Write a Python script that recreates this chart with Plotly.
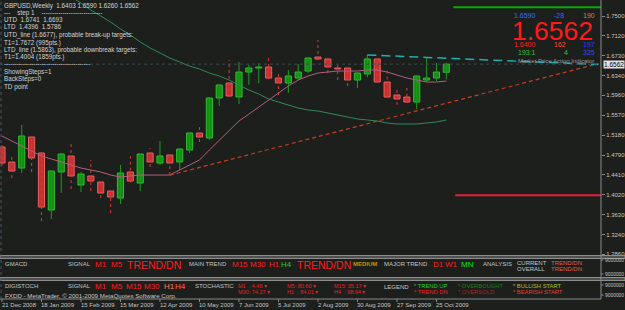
import plotly.graph_objects as go

FONT = "Liberation Sans"
BG = "#1d1f1d"
GRAY = "#c4c4c4"
AXIS = "#8a8a8a"

# ---------------- data ----------------
dates = ["21 Dec 2008", "18 Jan 2009", "15 Feb 2009", "15 Mar 2009", "12 Apr 2009",
         "10 May 2009", "7 Jun 2009", "5 Jul 2009", "2 Aug 2009", "30 Aug 2009",
         "27 Sep 2009", "25 Oct 2009"]
date_pos = [0, 4, 8, 12, 16, 20, 24, 28, 32, 36, 40, 44]

opens = [1.4946, 1.4654, 1.4537, 1.5141, 1.4829, 1.3718, 1.4459, 1.4771, 1.4205, 1.4381,
         1.4264, 1.4088, 1.3952, 1.4459, 1.4244, 1.4829, 1.4634, 1.4790, 1.4654, 1.4888,
         1.5219, 1.5122, 1.5901, 1.6194, 1.5921, 1.6408, 1.6486, 1.6506, 1.6291, 1.6194,
         1.6291, 1.6428, 1.6701, 1.6662, 1.6486, 1.6486, 1.6252, 1.6369, 1.6662, 1.6213,
         1.5960, 1.5921, 1.5823, 1.6252, 1.6291, 1.6403]
highs = [1.4985, 1.4751, 1.5375, 1.5150, 1.4888, 1.4490, 1.4829, 1.5005, 1.4459, 1.4693,
         1.4275, 1.4100, 1.4595, 1.4771, 1.4820, 1.4927, 1.5063, 1.4800, 1.4920, 1.5230,
         1.5336, 1.5921, 1.6165, 1.6642, 1.6603, 1.6545, 1.6584, 1.6740, 1.6389, 1.6447,
         1.6564, 1.6690, 1.7032, 1.6670, 1.6603, 1.6495, 1.6400, 1.6740, 1.6670, 1.6447,
         1.6116, 1.6096, 1.6350, 1.6681, 1.6584, 1.6590]
lows = [1.4576, 1.4342, 1.4439, 1.4459, 1.3503, 1.3542, 1.4049, 1.4127, 1.4069, 1.4088,
        1.3952, 1.3659, 1.3835, 1.4250, 1.4088, 1.4556, 1.4595, 1.4400, 1.4498, 1.4829,
        1.5044, 1.5083, 1.5745, 1.5921, 1.5784, 1.6155, 1.6194, 1.6272, 1.5960, 1.5999,
        1.6252, 1.6389, 1.6642, 1.6389, 1.6252, 1.6135, 1.6096, 1.6311, 1.6205, 1.5910,
        1.5765, 1.5810, 1.5687, 1.6213, 1.6233, 1.6260]
closes = [1.4634, 1.4478, 1.5161, 1.4732, 1.3776, 1.4478, 1.4810, 1.4381, 1.4420, 1.4283,
          1.4049, 1.3971, 1.4439, 1.4283, 1.4810, 1.4654, 1.4771, 1.4634, 1.4907, 1.5219,
          1.5141, 1.5901, 1.6155, 1.5940, 1.6408, 1.6486, 1.6506, 1.6291, 1.6194, 1.6330,
          1.6408, 1.6681, 1.6662, 1.6506, 1.6467, 1.6252, 1.6389, 1.6662, 1.6213, 1.5921,
          1.5882, 1.5823, 1.6330, 1.6291, 1.6408, 1.6562]

ma_fast = [1.5161, 1.5063, 1.4966, 1.4868, 1.4771, 1.4712, 1.4654, 1.4595, 1.4537, 1.4498,
           1.4459, 1.4400, 1.4361, 1.4381, 1.4400, 1.4400, 1.4400, 1.4400, 1.4498, 1.4595,
           1.4693, 1.4888, 1.5083, 1.5258, 1.5453, 1.5587, 1.5726, 1.5862, 1.5999, 1.6135,
           1.6252, 1.6330, 1.6389, 1.6408, 1.6428, 1.6428, 1.6428, 1.6447, 1.6447, 1.6408,
           1.6350, 1.6291, 1.6252, 1.6213, 1.6213, 1.6233]
ma_slow_start = 6
ma_slow = [1.8010, 1.7870, 1.7754, 1.7617, 1.7500, 1.7383, 1.7247, 1.7130, 1.6993, 1.6876,
           1.6779, 1.6681, 1.6603, 1.6525, 1.6467, 1.6389, 1.6330, 1.6252, 1.6155, 1.6057,
           1.5979, 1.5882, 1.5823, 1.5765, 1.5706, 1.5667, 1.5648, 1.5609, 1.5570, 1.5531,
           1.5492, 1.5473, 1.5453, 1.5414, 1.5395, 1.5395, 1.5395, 1.5414, 1.5434, 1.5473]

utd_idx = [37, 43]
utd_val = [1.6741, 1.6693]
ltd_idx = [17, 42]
ltd_val = [1.4396, 1.5650]
target_up = 1.7672
target_dn = 1.4004
last_close = 1.6562

price_ticks = [1.7500, 1.7120, 1.6730, 1.6340, 1.5960, 1.5570, 1.5180, 1.4790,
               1.4410, 1.4020, 1.3630, 1.3240, 1.2860]

X_RANGE = [-0.2, 60.66]
Y_RANGE = [1.2841, 1.7812]

# ---------------- layout helpers (pixel -> paper) ----------------
PW, PH = 601.0, 299.0
def px(x): return x / PW
def py(y): return 1 - y / PH

fig = go.Figure()

# candles
n = len(opens)
idx = list(range(n))
up = [i for i in idx if closes[i] >= opens[i]]
dn = [i for i in idx if closes[i] < opens[i]]

def wick_xy(ids):
    xs, ys = [], []
    for i in ids:
        xs += [i, i, None]
        ys += [lows[i], highs[i], None]
    return xs, ys

wx, wy = wick_xy(up)
fig.add_trace(go.Scatter(x=wx, y=wy, mode="lines", line=dict(color="#1f9a1f", width=1),
                         hoverinfo="skip"))
wx, wy = wick_xy(dn)
fig.add_trace(go.Scatter(x=wx, y=wy, mode="lines", line=dict(color="#d83a3a", width=1, dash="dot"),
                         hoverinfo="skip"))

fig.add_trace(go.Bar(x=up, base=[opens[i] for i in up],
                     y=[closes[i] - opens[i] for i in up], width=0.62,
                     marker=dict(color="#128f12", line=dict(color="#2fbf2f", width=1))))
fig.add_trace(go.Bar(x=dn, base=[closes[i] for i in dn],
                     y=[opens[i] - closes[i] for i in dn], width=0.62,
                     marker=dict(color="#c83030", line=dict(color="#e86060", width=1))))

# moving averages
fig.add_trace(go.Scatter(x=idx, y=ma_fast, mode="lines",
                         line=dict(color="#b45c80", width=1), hoverinfo="skip"))
fig.add_trace(go.Scatter(x=list(range(ma_slow_start, ma_slow_start + len(ma_slow))), y=ma_slow,
                         mode="lines", line=dict(color="#2f8a55", width=1), hoverinfo="skip"))

# trend lines extended to the right edge
x_end = 60.4
def ext(ix, iv):
    s = (iv[1] - iv[0]) / (ix[1] - ix[0])
    return [ix[0], x_end], [iv[0], iv[0] + s * (x_end - ix[0])]

lx, ly = ext(ltd_idx, ltd_val)
fig.add_trace(go.Scatter(x=lx, y=ly, mode="lines",
                         line=dict(color="#c43c22", width=1.2, dash="4px,3px"), hoverinfo="skip"))
ux, uy = ext(utd_idx, utd_val)
fig.add_trace(go.Scatter(x=ux, y=uy, mode="lines",
                         line=dict(color="#1fb0b0", width=1.5, dash="9px,5px"), hoverinfo="skip"))

# target lines and current price line
fig.add_trace(go.Scatter(x=[45.7, X_RANGE[1]], y=[target_up, target_up], mode="lines",
                         line=dict(color="#08a808", width=2), hoverinfo="skip"))
fig.add_trace(go.Scatter(x=[45.9, X_RANGE[1]], y=[target_dn, target_dn], mode="lines",
                         line=dict(color="#e8203c", width=2), hoverinfo="skip"))
fig.add_trace(go.Scatter(x=X_RANGE, y=[last_close, last_close], mode="lines",
                         line=dict(color="#3a4c50", width=1, dash="dot"), hoverinfo="skip"))

shapes = []
# separators
for y0, y1 in [(255.5, 258.5), (277.5, 280.5)]:
    shapes.append(dict(type="rect", xref="paper", yref="paper", x0=0, x1=625 / PW,
                       y0=py(y1), y1=py(y0), fillcolor="#505050",
                       line=dict(color="#8c8c8c", width=1), layer="above"))
# borders
shapes.append(dict(type="line", xref="paper", yref="paper", x0=1, x1=1, y0=0, y1=1,
                   line=dict(color=AXIS, width=1)))
shapes.append(dict(type="line", xref="paper", yref="paper", x0=0, x1=1, y0=0, y1=0,
                   line=dict(color=AXIS, width=1)))
shapes.append(dict(type="line", xref="paper", yref="paper", x0=px(1), x1=px(1), y0=0, y1=1,
                   line=dict(color="#4a5866", width=1, dash="dot")))
# date ticks
for p in date_pos:
    shapes.append(dict(type="line", xref="x", yref="paper", x0=p, x1=p, y0=py(299), y1=py(302),
                       line=dict(color=AXIS, width=1)))
# sub-panel right ticks
for yy in [260, 274, 285, 295]:
    shapes.append(dict(type="line", xref="paper", yref="paper", x0=1, x1=px(603.5), y0=py(yy), y1=py(yy),
                       line=dict(color=AXIS, width=1)))

ann = []
def T(text, x, y, color=GRAY, size=6, bold=False, bg=None, height=None):
    t = "<b>%s</b>" % text if bold else text
    d = dict(x=px(x), y=py(y), xref="paper", yref="paper", text=t, showarrow=False,
             xanchor="left", yanchor="middle", borderpad=0,
             font=dict(family=FONT, size=size, color=color))
    if bg:
        d["bgcolor"] = bg
    if height:
        d["height"] = height
    ann.append(d)

# top-left info
info = [("GBPUSD,Weekly  1.6403 1.6590 1.6260 1.6562", 6),
        ("---    step 1    -----------------------------", 13),
        ("UTD  1.6741  1.6693", 20),
        ("LTD  1.4396  1.5786", 27),
        ("UTD_line (1.6677), probable break-up targets:", 35),
        ("T1=1.7672 (995pts.)", 43),
        ("LTD_line (1.5863), probable downbreak targets:", 50),
        ("T1=1.4004 (1859pts.)", 57),
        ("-----------------------------------------", 64),
        ("ShowingSteps=1", 72),
        ("BackSteps=0", 79),
        ("TD point", 87)]
for t, y in info:
    T(t, 3, y, "#d4d4d4", 6.3)

# top-right info block
T("1.6590", 513, 16, "#2f6bff", 7)
T("-28", 553, 16, "#2f6bff", 7)
T("190", 582, 16, "#c48a3a", 7)
T("1.6562", 511, 30.5, "#ff1a1a", 26.5, height=22)
T("1.6400", 513, 44.5, "#ff2020", 7)
T("162", 553, 44.5, "#ff4a2a", 7)
T("197", 582, 44.5, "#2a3cff", 7)
T("193:1", 517, 52.5, "#3cc03c", 7)
T("4", 563, 52.5, "#3cc03c", 7)
T("325", 582, 52.5, "#3048ff", 7)
T("Market Price Action Indicator", 517, 61, "#9a9a9a", 6)

# GMACD panel
RED = "#ff1c1c"
T("GMACD", 4, 264)
T("SIGNAL", 67, 264)
T("M1", 94, 264, RED, 8)
T("M5", 110, 264, RED, 8)
T("TREND/DN", 126, 265, RED, 10.5)
T("MAIN TREND", 188, 264)
T("M15", 231, 264, RED, 8)
T("M30", 249, 264, RED, 8)
T("H1", 268, 264, RED, 8)
T("H4", 280, 264, "#22d022", 8)
T("TREND/DN", 296, 265, RED, 10.5)
T("MEDIUM", 352, 264, "#d08a00", 6, True)
T("MAJOR TREND", 383, 264)
T("D1", 432, 264, RED, 8)
T("W1", 444, 264, RED, 8)
T("MN", 460, 264, "#10e010", 8)
T("ANALYSIS", 482, 264)
T("CURRENT", 516, 263)
T("OVERALL", 516, 268.5)
T("TREND/DN", 550, 263, "#e85a48", 6)
T("TREND/DN", 550, 268.5, "#e85a48", 6)

# DIGISTOCH panel
T("DIGISTOCH", 4, 286)
T("FXDD - MetaTrader, © 2001-2009 MetaQuotes Software Corp.", 4, 295, "#c8c8c8", 6.2)
T("SIGNAL", 67, 286)
T("M1", 94, 286, RED, 8)
T("M5", 110, 286, RED, 8)
T("M15", 125, 286, RED, 8)
T("M30", 143, 286, RED, 8)
T("H1", 163, 286, "#ff7a5a", 8)
T("H4", 174, 286, "#ff6a40", 8)
T("STOCHASTIC", 194, 286)
T("M1  : 4.46 ▾", 237, 286, "#e02424", 5.5)
T("M30: 74.27 ▾", 237, 292, "#e02424", 5.5)
T("M5: 80.60 ▾", 286, 286, "#e02424", 5.5)
T("H1  : 84.01 ▾", 286, 292, "#e02424", 5.5)
T("M15: 35.17 ▾", 333, 286, "#e02424", 5.5)
T("H4  : 98.94 ▾", 333, 292, "#e02424", 5.5)
T("LEGEND", 383, 287)
T("* TREND UP", 413, 286, "#22c822", 5.8)
T("* TREND DN", 413, 291.5, "#e02424", 5.8)
T("* OVERBOUGHT", 457, 286, "#1c7c1c", 5.8)
T("* OVERSOLD", 457, 291.5, "#b02020", 5.8)
T("* BULLISH START", 512, 286, "#a6c020", 5.8)
T("* BEARISH START", 512, 291.5, "#e04428", 5.8)

# sub-panel right labels
for yy in [260, 274, 285, 295]:
    T("9000000", 604, yy, GRAY, 4.9)

# date labels
for d, p in zip(dates, date_pos):
    ann.append(dict(x=p, y=py(305), xref="x", yref="paper", text=d, showarrow=False,
                    xanchor="left", yanchor="middle", borderpad=0, xshift=-1,
                    font=dict(family=FONT, size=6, color=GRAY)))

# current price label on axis
ann.append(dict(x=px(603), y=last_close, xref="paper", yref="y", text="1.6562", showarrow=False,
                xanchor="left", yanchor="middle", bgcolor="#e4e4e4", borderpad=0,
                font=dict(family=FONT, size=6.5, color="#000000")))

fig.update_layout(
    width=625, height=310,
    margin=dict(l=0, r=24, t=0, b=11, pad=0),
    paper_bgcolor=BG, plot_bgcolor=BG,
    showlegend=False, barmode="overlay",
    shapes=shapes, annotations=ann,
    xaxis=dict(range=X_RANGE, showticklabels=False, showgrid=False, zeroline=False,
               showline=False, ticks="", fixedrange=True),
    yaxis=dict(domain=[py(255), 1], range=Y_RANGE, side="right", tickvals=price_ticks,
               ticktext=["%.4f" % v for v in price_ticks], showgrid=False, zeroline=False,
               showline=False, ticks="outside", ticklen=3, tickcolor=AXIS,
               tickfont=dict(family=FONT, size=6, color=GRAY)),
)

fig.write_html("out.html")
